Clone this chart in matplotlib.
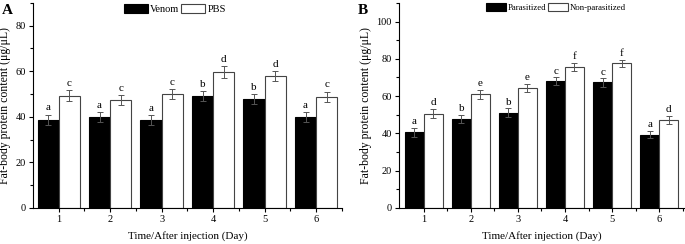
import numpy as np
import matplotlib
matplotlib.use("Agg")
import matplotlib.pyplot as plt
from matplotlib.ticker import MultipleLocator

plt.rcParams['font.family'] = ['Liberation Serif', 'DejaVu Serif']
plt.rcParams['font.size'] = 7.5

days = [1, 2, 3, 4, 5, 6]

# panel A
venom = [38.6, 40.0, 38.5, 49.2, 47.8, 39.9]
venom_err = [2.3, 2.2, 2.3, 2.1, 2.0, 2.2]
venom_let = ['a', 'a', 'a', 'b', 'b', 'a']
pbs = [49.2, 47.3, 50.1, 59.7, 57.8, 48.8]
pbs_err = [2.4, 2.3, 2.2, 2.5, 2.3, 2.3]
pbs_let = ['c', 'c', 'c', 'd', 'd', 'c']

# panel B
para = [40.5, 47.9, 51.1, 67.9, 67.3, 39.3]
para_err = [2.3, 2.1, 2.3, 2.1, 2.2, 2.0]
para_let = ['a', 'b', 'b', 'c', 'c', 'a']
nonpara = [50.6, 60.9, 64.5, 75.6, 77.7, 47.3]
nonpara_err = [2.3, 2.2, 2.1, 2.0, 1.9, 2.1]
nonpara_let = ['d', 'e', 'e', 'f', 'f', 'd']

fig = plt.figure(figsize=(6.85, 2.44), dpi=100)
axA = fig.add_axes([0.048, 0.148, 0.451, 0.84])
axB = fig.add_axes([0.582, 0.148, 0.417, 0.84])


def panel(ax, s1, e1, l1, s2, e2, l2, names, ylim, xlim, w, legx, legfs):
    x = np.array(days)
    ax.bar(x - w / 2, s1, w, color='black', edgecolor='black', lw=0.8, label=names[0])
    ax.bar(x + w / 2, s2, w, color='white', edgecolor='#444444', lw=0.8, label=names[1])
    ax.errorbar(x - w / 2, s1, yerr=e1, fmt='none', ecolor='#555555',
                elinewidth=0.7, capsize=2, capthick=0.7)
    ax.errorbar(x + w / 2, s2, yerr=e2, fmt='none', ecolor='#555555',
                elinewidth=0.7, capsize=2, capthick=0.7)
    for xi, v, e, t in zip(x - w / 2, s1, e1, l1):
        ax.text(xi, v + e + 1.0, t, ha='center', va='bottom', fontsize=8)
    for xi, v, e, t in zip(x + w / 2, s2, e2, l2):
        ax.text(xi, v + e + 1.0, t, ha='center', va='bottom', fontsize=8)
    ax.set_xlim(*xlim)
    ax.set_ylim(*ylim)
    ax.set_xticks(days)
    ax.set_xticks([d + 0.5 for d in days], minor=True)
    ax.yaxis.set_minor_locator(MultipleLocator(10))
    ax.set_yticks(np.arange(0, ylim[1] - 5, 20))
    ax.tick_params(which='major', length=3, width=0.8, pad=2, labelsize=7.5)
    ax.tick_params(which='minor', length=2, width=0.8)
    for sp in ['top', 'right']:
        ax.spines[sp].set_visible(False)
    for sp in ['left', 'bottom']:
        ax.spines[sp].set_linewidth(0.8)
    ax.set_xlabel('Time/After injection (Day)', fontsize=8, labelpad=5)
    ax.set_ylabel('Fat-body protein content (\u03bcg/\u03bcL)', fontsize=8.5, labelpad=3)
    ax.legend(loc='upper center', bbox_to_anchor=(legx, 1.03), ncol=2, frameon=False,
              handlelength=2.3, handleheight=1.0, columnspacing=0.2, handletextpad=0.2,
              fontsize=legfs, borderpad=0.2)
    return ax


panel(axA, venom, venom_err, venom_let, pbs, pbs_err, pbs_let,
      ['Venom', 'PBS'], (0, 90), (0.5, 6.5), 0.41, 0.46, 7.5)
panel(axB, para, para_err, para_let, nonpara, nonpara_err, nonpara_let,
      ['Parasitized', 'Non-parasitized'], (0, 110), (0.47, 6.53), 0.40, 0.55, 6.3)

fig.text(0.003, 0.955, 'A', fontsize=11, fontweight='bold', va='center')
fig.text(0.523, 0.955, 'B', fontsize=11, fontweight='bold', va='center')

fig.savefig('out.png', dpi=100)
